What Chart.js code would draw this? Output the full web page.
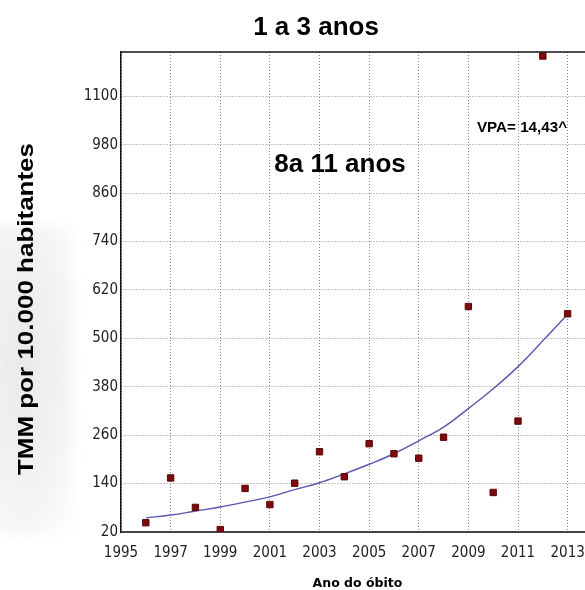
<!DOCTYPE html>
<html>
<head>
<meta charset="utf-8">
<script src="https://cdn.jsdelivr.net/npm/chart.js@4.4.1/dist/chart.umd.min.js"></script>
<style>
  html, body { margin: 0; padding: 0; background: #fff; }
  #wrap { position: relative; width: 585px; height: 590px; overflow: hidden; }
  #haze {
    position: absolute; left: -20px; top: 225px; width: 95px; height: 310px;
    background: radial-gradient(ellipse at 45% 45%, rgba(215,215,215,0.55) 0%, rgba(225,225,225,0.4) 55%, rgba(240,240,240,0) 100%);
    filter: blur(5px);
  }
  canvas { position: absolute; left: 0; top: 0; }
</style>
</head>
<body>
<div id="wrap">
  <div id="haze"></div>
  <canvas id="c" width="585" height="590"></canvas>
</div>
<script>
// Observed rate per year (TMM por 10.000 habitantes)
const years = [1996, 1997, 1998, 1999, 2000, 2001, 2002, 2003, 2004, 2005, 2006, 2007, 2008, 2009, 2010, 2011, 2012, 2013];
const tmm   = [43, 154, 81, 26, 128, 88, 141, 219, 157, 239, 214, 203, 255, 579, 118, 295, 1200, 561];
// Fitted trend curve values per year
const trend = [55, 62, 72, 82, 94, 107, 125, 142, 164, 188, 214, 246, 280, 326, 375, 430, 494, 560];

const xTicks = [1995, 1997, 1999, 2001, 2003, 2005, 2007, 2009, 2011, 2013];
const yTicks = [20, 140, 260, 380, 500, 620, 740, 860, 980, 1100];

const titleText = '1 a 3 anos';
const yTitle = 'TMM por 10.000 habitantes';
const xTitle = 'Ano do óbito';
const groupLabel = '8a 11 anos';
const vpaLabel = 'VPA= 14,43^';

const tickFont = { family: "'Liberation Sans Narrow', 'Arial Narrow', 'DejaVu Sans Condensed', sans-serif", size: 15 };

// draw text stretched horizontally to a given width (keeps glyph height)
function stretchedText(ctx, text, cx, cy, width) {
  const w = ctx.measureText(text).width;
  ctx.save();
  ctx.translate(cx, cy);
  ctx.scale(width / w, 1);
  ctx.fillText(text, 0, 0);
  ctx.restore();
}

const textPlugin = {
  id: 'texts',
  afterDraw(chart) {
    const ctx = chart.ctx;
    const a = chart.chartArea;
    ctx.save();
    // top frame line
    ctx.strokeStyle = '#111';
    ctx.lineWidth = 1.5;
    ctx.beginPath();
    ctx.moveTo(a.left, a.top);
    ctx.lineTo(a.right, a.top);
    ctx.stroke();

    ctx.fillStyle = '#000';
    ctx.textAlign = 'center';
    ctx.textBaseline = 'alphabetic';
    ctx.font = "bold 26px 'Liberation Sans', Arial, sans-serif";
    ctx.fillText(titleText, 316, 35);
    ctx.fillText(groupLabel, 340, 172);

    ctx.font = "bold 14px 'Liberation Sans', Arial, sans-serif";
    stretchedText(ctx, vpaLabel, 522, 131.5, 90);

    ctx.font = "bold 12.5px 'DejaVu Sans', sans-serif";
    ctx.fillText(xTitle, 357.5, 587);

    ctx.translate(27, 309);
    ctx.rotate(-Math.PI / 2);
    ctx.textBaseline = 'middle';
    ctx.font = "bold 22px 'Liberation Sans', Arial, sans-serif";
    stretchedText(ctx, yTitle, 0, 0, 332);
    ctx.restore();
  }
};

new Chart(document.getElementById('c'), {
  type: 'scatter',
  data: {
    datasets: [
      {
        type: 'line',
        label: 'tendência',
        data: years.map((y, i) => ({ x: y, y: trend[i] })),
        borderColor: '#5a57b0',
        borderWidth: 1.4,
        pointRadius: 0,
        fill: false,
        tension: 0.4,
        order: 2
      },
      {
        label: 'TMM',
        data: years.map((y, i) => ({ x: y, y: tmm[i] })),
        pointStyle: 'rect',
        pointRadius: 4.5,
        pointBackgroundColor: '#7e0a0c',
        pointBorderColor: '#5c0608',
        pointBorderWidth: 1,
        order: 1
      }
    ]
  },
  options: {
    responsive: false,
    animation: false,
    devicePixelRatio: 1,
    layout: { autoPadding: false, padding: { top: 52, right: 0, bottom: 0, left: 0 } },
    plugins: { legend: { display: false }, tooltip: { enabled: false }, title: { display: false } },
    scales: {
      x: {
        type: 'linear',
        min: 1995,
        max: 2013.7,
        afterBuildTicks: s => { s.ticks = xTicks.map(v => ({ value: v })); },
        afterFit: s => { s.height = 58; s.paddingLeft = 0; s.paddingRight = 0; },
        ticks: { font: tickFont, color: '#222', padding: 12, maxRotation: 0, callback: v => String(v) },
        grid: { color: '#8c8c8c', lineWidth: 1, drawTicks: false },
        border: { display: true, color: '#444', width: 2, dash: [1, 2] }
      },
      y: {
        type: 'linear',
        min: 20,
        max: 1210,
        afterBuildTicks: s => { s.ticks = yTicks.map(v => ({ value: v })); },
        afterFit: s => { s.width = 121; s.paddingTop = 0; s.paddingBottom = 0; },
        ticks: { font: tickFont, color: '#222', padding: 3, callback: v => String(v) },
        grid: { color: '#8c8c8c', lineWidth: 1, drawTicks: false },
        border: { display: true, color: '#111', width: 1.5, dash: [1, 2] }
      }
    }
  },
  plugins: [textPlugin]
});
</script>
</body>
</html>
